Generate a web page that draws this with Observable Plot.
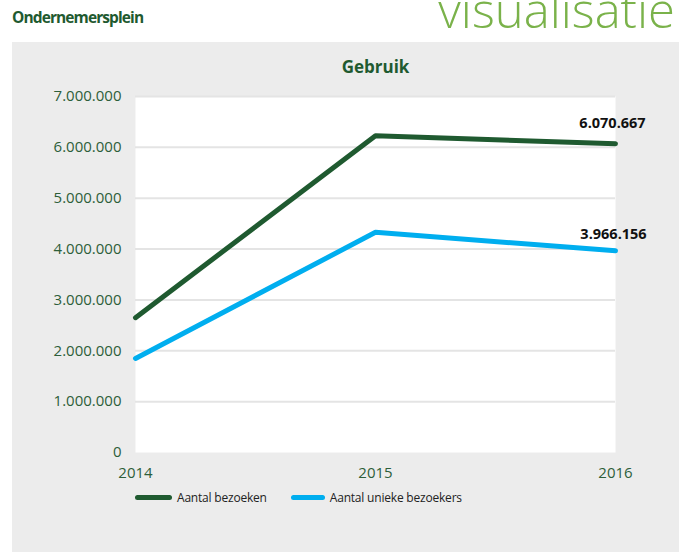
<!DOCTYPE html>
<html>
<head>
<meta charset="utf-8">
<script src="https://cdn.jsdelivr.net/npm/d3@7"></script>
<script src="https://cdn.jsdelivr.net/npm/@observablehq/plot@0.6"></script>
<style>
  html, body { margin: 0; padding: 0; background: #fff; width: 679px; height: 552px; overflow: hidden; font-family: "Open Sans", sans-serif; }
  #page { position: relative; width: 679px; height: 552px; }
  #brand { position: absolute; left: 12px; top: 6px; font-size: 15.5px; font-weight: 700; color: #1f5a30; letter-spacing: -0.9px; }
  #big { position: absolute; right: 4px; top: -15px; font-size: 49px; font-weight: 300; color: #7ab24a; line-height: 1; }
  #panel { position: absolute; left: 12px; top: 42px; width: 667px; height: 510px; background: #ececec; }
  #title { position: absolute; left: 0; width: 727px; top: 13px; text-align: center; font-size: 17px; font-weight: 700; color: #1f5a30; }
  #chart { position: absolute; left: 0; top: 0; }
  #legend { position: absolute; top: 447px; left: 123px; display: flex; align-items: center; font-size: 12px; color: #222; letter-spacing: -0.2px; }
  .sw { display: inline-block; height: 5px; border-radius: 3px; margin-right: 5px; }
</style>
</head>
<body>
<div id="page">
  <div id="brand">Ondernemersplein</div>
  <div id="big">visualisatie</div>
  <div id="panel">
    <div id="chart"></div>
    <div id="title">Gebruik</div>
    <div id="legend"></div>
  </div>
</div>
<script>
const years = [2014, 2015, 2016];
const seriesNames = ["Aantal bezoeken", "Aantal unieke bezoekers"];
const bezoeken = [2650000, 6230000, 6070667];
const uniekeBezoekers = [1850000, 4330000, 3966156];
const yTicks = [0, 1000000, 2000000, 3000000, 4000000, 5000000, 6000000, 7000000];
const colors = ["#1f5a30", "#00aeef"];

const nl = d3.formatLocale({decimal: ",", thousands: ".", grouping: [3], currency: ["€", ""]});
const fmt = nl.format(",d");

const data = [];
years.forEach((y, i) => {
  data.push({year: y, value: bezoeken[i], series: seriesNames[0]});
  data.push({year: y, value: uniekeBezoekers[i], series: seriesNames[1]});
});
const last = data.filter(d => d.year === years[years.length - 1]);

const chart = Plot.plot({
  width: 667,
  height: 510,
  marginLeft: 123,
  marginRight: 64,
  marginTop: 54,
  marginBottom: 100,
  style: {background: "transparent", fontFamily: "Open Sans, sans-serif", overflow: "visible"},
  x: {domain: [2014, 2016], ticks: years, tickFormat: d => String(d), label: null},
  y: {domain: [0, 7000000], ticks: yTicks, label: null},
  color: {domain: seriesNames, range: colors},
  marks: [
    Plot.frame({fill: "white", stroke: null}),
    Plot.gridY(yTicks.slice(1), {stroke: "#e4e4e4", strokeOpacity: 1, strokeWidth: 2}),
    Plot.axisY(yTicks, {tickSize: 0, tickPadding: 14, tickFormat: fmt, fontSize: 15, fill: "#2d5e3a", label: null}),
    Plot.axisX(years, {tickSize: 0, tickPadding: 15, fontSize: 15, fill: "#2d5e3a", label: null, tickFormat: d => String(d)}),
    Plot.line(data, {x: "year", y: "value", z: "series", stroke: "series", strokeWidth: 5, strokeLinecap: "round", strokeLinejoin: "round"}),
    Plot.text(last.filter(d => d.series === seriesNames[0]), {x: "year", y: "value", text: d => fmt(d.value), dy: -20, dx: -3, fontSize: 14.5, fontWeight: 700, fill: "#111"}),
    Plot.text(last.filter(d => d.series === seriesNames[1]), {x: "year", y: "value", text: d => fmt(d.value), dy: -16, dx: -2, fontSize: 14.5, fontWeight: 700, fill: "#111"})
  ]
});
document.getElementById("chart").appendChild(chart);

const legend = document.getElementById("legend");
const widths = [37, 34];
const gaps = [24, 0];
seriesNames.forEach((s, i) => {
  const sw = document.createElement("span");
  sw.className = "sw";
  sw.style.width = widths[i] + "px";
  sw.style.background = colors[i];
  const t = document.createElement("span");
  t.textContent = s;
  t.style.marginRight = gaps[i] + "px";
  legend.appendChild(sw);
  legend.appendChild(t);
});
</script>
</body>
</html>
